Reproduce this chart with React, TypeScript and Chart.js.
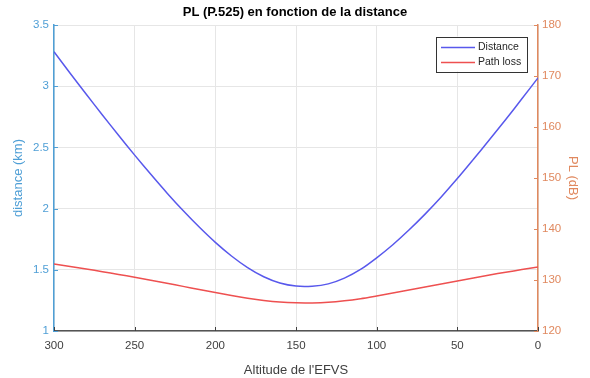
import { useEffect, useRef } from "react";
import { Chart, registerables } from "chart.js";

Chart.register(...registerables);

const altitudes = [300, 290, 280, 270, 260, 250, 240, 230, 220, 210, 200, 190, 180, 170, 160, 150, 140, 130, 120, 110, 100, 90, 80, 70, 60, 50, 40, 30, 20, 10, 0];
const distanceKm = [3.281, 3.106, 2.934, 2.765, 2.599, 2.437, 2.28, 2.128, 1.984, 1.849, 1.724, 1.613, 1.518, 1.443, 1.392, 1.367, 1.366, 1.385, 1.432, 1.503, 1.598, 1.705, 1.825, 1.955, 2.095, 2.245, 2.403, 2.564, 2.728, 2.897, 3.068];
const pathLossDb = [133.12, 132.64, 132.15, 131.63, 131.1, 130.54, 129.96, 129.36, 128.75, 128.14, 127.53, 126.95, 126.43, 125.99, 125.67, 125.52, 125.51, 125.63, 125.92, 126.34, 126.87, 127.43, 128.03, 128.62, 129.22, 129.82, 130.41, 130.98, 131.52, 132.04, 132.54];

const TITLE = "PL (P.525) en fonction de la distance";
const X_TITLE = "Altitude de l'EFVS";
const Y_TITLE = "distance (km)";
const Y1_TITLE = "PL (dB)";
const SERIES_NAMES = ["Distance", "Path loss"];

const FONT = "'Liberation Sans', Arial, Helvetica, sans-serif";
const BLUE_AXIS = "#4f9fd6";
const ORANGE_AXIS = "#e0895f";
const BLUE_LINE = "#5858ec";
const RED_LINE = "#ee5050";
const GRID = "#e6e6e6";
const DARK = "#404040";

const fmt = (v: any) => String(Math.round(Number(v) * 100) / 100);

const innerTicks = {
  id: "innerTicks",
  afterDatasetsDraw(chart: any) {
    const { ctx, chartArea, scales } = chart;
    const { left, right, bottom } = chartArea;
    const L = 4;
    ctx.save();
    ctx.lineWidth = 1;
    ctx.strokeStyle = DARK;
    scales.x.ticks.forEach((t: any) => {
      const p = Math.round(scales.x.getPixelForValue(t.value)) + 0.5;
      ctx.beginPath();
      ctx.moveTo(p, bottom);
      ctx.lineTo(p, bottom - L);
      ctx.stroke();
    });
    ctx.strokeStyle = BLUE_AXIS;
    scales.y.ticks.forEach((t: any) => {
      const p = Math.round(scales.y.getPixelForValue(t.value)) + 0.5;
      ctx.beginPath();
      ctx.moveTo(left, p);
      ctx.lineTo(left + L, p);
      ctx.stroke();
    });
    ctx.strokeStyle = ORANGE_AXIS;
    scales.y1.ticks.forEach((t: any) => {
      const p = Math.round(scales.y1.getPixelForValue(t.value)) + 0.5;
      ctx.beginPath();
      ctx.moveTo(right, p);
      ctx.lineTo(right - L, p);
      ctx.stroke();
    });
    ctx.restore();
  },
};

const boxLegend = {
  id: "boxLegend",
  afterDraw(chart: any) {
    const { ctx, chartArea } = chart;
    const w = 91;
    const h = 35;
    const x = chartArea.right - 11 - w;
    const y = chartArea.top + 11.5;
    ctx.save();
    ctx.fillStyle = "#ffffff";
    ctx.fillRect(x, y, w, h);
    ctx.strokeStyle = "#333333";
    ctx.lineWidth = 1;
    ctx.strokeRect(Math.round(x) + 0.5, Math.round(y) + 0.5, w, h);
    ctx.font = "10.5px " + FONT;
    ctx.textBaseline = "middle";
    ctx.fillStyle = "#262626";
    chart.data.datasets.forEach((ds: any, i: number) => {
      const ly = y + 11 + i * 15;
      ctx.strokeStyle = ds.borderColor;
      ctx.lineWidth = 1.5;
      ctx.beginPath();
      ctx.moveTo(x + 5, ly);
      ctx.lineTo(x + 39, ly);
      ctx.stroke();
      ctx.fillText(ds.label, x + 42, ly);
    });
    ctx.restore();
  },
};

export default function App() {
  const ref = useRef<HTMLCanvasElement | null>(null);

  useEffect(() => {
    if (!ref.current) return;
    const distPts = altitudes.map((a, i) => ({ x: a, y: distanceKm[i] }));
    const plPts = altitudes.map((a, i) => ({ x: a, y: pathLossDb[i] }));
    const chart = new Chart(ref.current, {
      type: "line",
      data: {
        datasets: [
          {
            label: SERIES_NAMES[0],
            data: distPts,
            yAxisID: "y",
            borderColor: BLUE_LINE,
            borderWidth: 1.5,
            pointRadius: 0,
            tension: 0.3,
            fill: false,
          },
          {
            label: SERIES_NAMES[1],
            data: plPts,
            yAxisID: "y1",
            borderColor: RED_LINE,
            borderWidth: 1.5,
            pointRadius: 0,
            tension: 0.3,
            fill: false,
          },
        ],
      },
      options: {
        responsive: false,
        animation: false,
        layout: { padding: 0 },
        plugins: {
          legend: { display: false },
          tooltip: { enabled: false },
          title: {
            display: true,
            text: TITLE,
            color: "#000000",
            font: { family: FONT, size: 13, weight: "bold" },
            padding: { top: 5, bottom: 4.4 },
          },
        },
        scales: {
          x: {
            type: "linear",
            reverse: true,
            min: 0,
            max: 300,
            ticks: {
              stepSize: 50,
              color: DARK,
              font: { family: FONT, size: 11.5 },
              padding: 8,
              maxRotation: 0,
              callback: fmt,
            },
            grid: { color: GRID, drawTicks: false, lineWidth: 1 },
            border: { color: "#555555", width: 1.5 },
            title: {
              display: true,
              text: X_TITLE,
              color: DARK,
              font: { family: FONT, size: 13 },
              padding: { top: 3, bottom: 0 },
            },
            afterFit: (s: any) => {
              s.height = 47;
            },
          },
          y: {
            position: "left",
            min: 1,
            max: 3.5,
            ticks: {
              stepSize: 0.5,
              color: BLUE_AXIS,
              font: { family: FONT, size: 11.5 },
              padding: 5,
              callback: fmt,
            },
            grid: { color: GRID, drawTicks: false, lineWidth: 1 },
            border: { color: BLUE_AXIS, width: 1.5 },
            title: {
              display: true,
              text: Y_TITLE,
              color: BLUE_AXIS,
              font: { family: FONT, size: 13 },
              padding: { top: 10.5, bottom: 0 },
            },
            afterFit: (s: any) => {
              s.width = 54;
            },
          },
          y1: {
            position: "right",
            min: 120,
            max: 180,
            ticks: {
              stepSize: 10,
              color: ORANGE_AXIS,
              font: { family: FONT, size: 11.5 },
              padding: 4,
              callback: fmt,
            },
            grid: { drawOnChartArea: false, drawTicks: false },
            border: { color: ORANGE_AXIS, width: 1.5 },
            title: {
              display: true,
              text: Y1_TITLE,
              color: ORANGE_AXIS,
              font: { family: FONT, size: 13 },
              padding: { top: 9.5, bottom: 0 },
            },
            afterFit: (s: any) => {
              s.width = 52;
            },
          },
        },
      } as any,
      plugins: [innerTicks, boxLegend],
    });
    return () => chart.destroy();
  }, []);

  return (
    <div style={{ position: "fixed", left: 0, top: 0, width: 590, height: 378, background: "#ffffff" }}>
      <canvas ref={ref} width={590} height={378} style={{ display: "block" }} />
    </div>
  );
}
